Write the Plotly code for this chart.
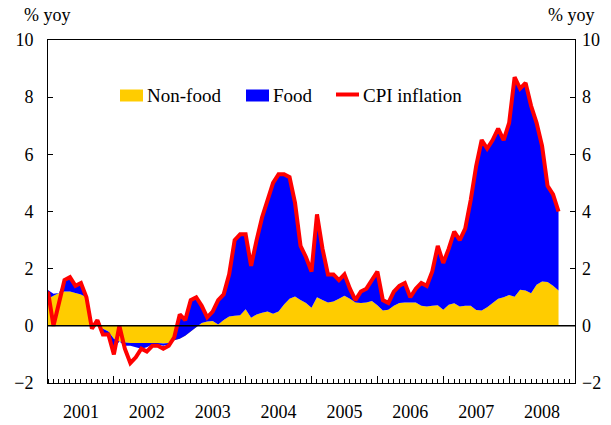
import plotly.graph_objects as go

# Monthly, Jan 2001 .. Oct 2008 (index 0 = Jan 2001)
years = ["2001", "2002", "2003", "2004", "2005", "2006", "2007", "2008"]

cpi = [
    1.2, 0.0, 0.8, 1.6, 1.7, 1.4, 1.5, 1.0, -0.1, 0.2, -0.3, -0.3,
    -1.0, 0.0, -0.8, -1.3, -1.1, -0.8, -0.9, -0.7, -0.7, -0.8, -0.7, -0.4,
    0.4, 0.2, 0.9, 1.0, 0.7, 0.3, 0.5, 0.9, 1.1, 1.8, 3.0, 3.2,
    3.2, 2.1, 3.0, 3.8, 4.4, 5.0, 5.3, 5.3, 5.2, 4.3, 2.8, 2.4,
    1.9, 3.9, 2.7, 1.8, 1.8, 1.6, 1.8, 1.3, 0.9, 1.2, 1.3, 1.6,
    1.9, 0.9, 0.8, 1.2, 1.4, 1.5, 1.0, 1.3, 1.5, 1.4, 1.9, 2.8,
    2.2, 2.7, 3.3, 3.0, 3.4, 4.4, 5.6, 6.5, 6.2, 6.5, 6.9, 6.5,
    7.1, 8.7, 8.3, 8.5, 7.7, 7.1, 6.3, 4.9, 4.6, 4.0,
]

nonfood = [
    0.95, 1.05, 1.15, 1.2, 1.2, 1.15, 1.1, 1.0, -0.05, 0.0, -0.1, -0.2,
    -0.45, -0.55, -0.58, -0.6, -0.6, -0.6, -0.6, -0.6, -0.6, -0.62, -0.6, -0.5,
    -0.45, -0.35, -0.2, -0.05, 0.1, 0.15, 0.17, 0.05, 0.2, 0.33, 0.35, 0.37,
    0.58, 0.28, 0.4, 0.46, 0.5, 0.42, 0.5, 0.75, 0.95, 1.03, 0.9, 0.8,
    0.63, 1.0, 0.9, 0.82, 0.85, 0.95, 1.05, 0.95, 0.82, 0.8, 0.82, 0.87,
    0.72, 0.54, 0.56, 0.7, 0.8, 0.82, 0.82, 0.82, 0.7, 0.68, 0.7, 0.72,
    0.56, 0.74, 0.79, 0.68, 0.7, 0.7, 0.55, 0.54, 0.65, 0.8, 0.95, 1.0,
    1.08, 1.02, 1.26, 1.24, 1.14, 1.44, 1.55, 1.53, 1.4, 1.24,
]

food = [
    0.30, 0.07, 0.0, 0.40, 0.50, 0.25, 0.40, 0.0, -0.05, 0.15, -0.20, -0.15,
    -0.35, 0.0, -0.12, -0.1, -0.15, -0.2, -0.15, -0.05, -0.05, -0.08, -0.05, 0.15,
    0.85, 0.55, 1.1, 1.05, 0.6, 0.15, 0.33, 0.85, 0.9, 1.47, 2.65, 2.83,
    2.62, 1.82, 2.6, 3.34, 3.9, 4.58, 4.8, 4.55, 4.25, 3.27, 1.9, 1.6,
    1.27, 2.9, 1.8, 0.98, 0.95, 0.65, 0.75, 0.35, 0.08, 0.4, 0.48, 0.73,
    1.18, 0.36, 0.24, 0.5, 0.6, 0.68, 0.18, 0.48, 0.8, 0.72, 1.2, 2.08,
    1.64, 1.96, 2.51, 2.32, 2.7, 3.7, 5.05, 5.96, 5.55, 5.7, 5.95, 5.5,
    6.02, 7.68, 7.04, 7.26, 6.56, 5.66, 4.75, 3.37, 3.2, 2.76,
]

series_names = ["Non-food", "Food", "CPI inflation"]
series_colors = ["#FFCC00", "#0000FF", "#FF0000"]

months = list(range(len(cpi)))
year_centers = [6 + 12 * k for k in range(len(years))]
year_bounds = [12 * k for k in range(len(years) + 1)]
yticks = [-2, 0, 2, 4, 6, 8, 10]

FONT = "Liberation Serif"
W, H = 611, 425
ML, MR, MT, MB = 48, 36, 40, 42
PW, PH = W - ML - MR, H - MT - MB


def px(x):  # pixel -> paper x
    return (x - ML) / PW


def py(y):  # pixel -> paper y
    return (H - MB - y) / PH


fig = go.Figure()
fig.add_trace(go.Scatter(
    x=months, y=nonfood, name=series_names[0], stackgroup="one", mode="none",
    fillcolor=series_colors[0], hoverinfo="skip", showlegend=False))
fig.add_trace(go.Scatter(
    x=months, y=food, name=series_names[1], stackgroup="one", mode="none",
    fillcolor=series_colors[1], hoverinfo="skip", showlegend=False))
fig.add_trace(go.Scatter(
    x=months, y=cpi, name=series_names[2], mode="lines",
    line=dict(color=series_colors[2], width=4), hoverinfo="skip", showlegend=False))
# helper trace so the secondary (right / year-tick) axes are drawn
fig.add_trace(go.Scatter(x=[None], y=[None], xaxis="x2", yaxis="y2",
                         showlegend=False, hoverinfo="skip"))

# zero reference line drawn over the areas (as in the original)
shapes = [dict(type="line", xref="paper", yref="y", x0=0, x1=1, y0=0, y1=0,
               line=dict(color="black", width=1.5), layer="above")]
annotations = []

# legend key (swatches + labels) placed like the original
legend_x = [120, 246, 336]
for i, (name, col, lx) in enumerate(zip(series_names, series_colors, legend_x)):
    if i < 2:
        shapes.append(dict(type="rect", xref="paper", yref="paper",
                           x0=px(lx), x1=px(lx + 23), y0=py(101.5), y1=py(89.5),
                           fillcolor=col, line=dict(width=0), layer="above"))
    else:
        shapes.append(dict(type="line", xref="paper", yref="paper",
                           x0=px(lx), x1=px(lx + 23), y0=py(94.5), y1=py(94.5),
                           line=dict(color=col, width=4), layer="above"))
    annotations.append(dict(text=name, xref="paper", yref="paper",
                            x=px(lx + 25), y=py(95.5), xanchor="left", yanchor="middle",
                            showarrow=False, font=dict(size=19, family=FONT)))

annotations += [
    dict(text="% yoy", xref="paper", yref="paper", x=px(47), y=1, yshift=25,
         xanchor="center", yanchor="middle", showarrow=False,
         font=dict(size=18, family=FONT)),
    dict(text="% yoy", xref="paper", yref="paper", x=px(571), y=1, yshift=25,
         xanchor="center", yanchor="middle", showarrow=False,
         font=dict(size=18, family=FONT)),
]

fig.update_layout(
    width=W, height=H,
    margin=dict(l=ML, r=MR, t=MT, b=MB, autoexpand=False),
    paper_bgcolor="white", plot_bgcolor="white",
    font=dict(family=FONT, size=18, color="black"),
    showlegend=False,
    shapes=shapes,
    annotations=annotations,
    xaxis=dict(range=[0, 96], tickmode="array", tickvals=year_centers, ticktext=years,
               ticks="", showgrid=False, zeroline=False, automargin=False,
               showline=True, linecolor="black", linewidth=1, mirror=True,
               ticklabelstandoff=12,
               minor=dict(tickmode="linear", tick0=0, dtick=1, ticks="inside",
                          ticklen=4, tickcolor="black", tickwidth=1, showgrid=False)),
    xaxis2=dict(range=[0, 96], overlaying="x", anchor="y", side="bottom",
                tickmode="array", tickvals=year_bounds, ticks="inside", ticklen=7,
                tickcolor="black", showticklabels=False, showgrid=False,
                zeroline=False, showline=False, automargin=False),
    yaxis=dict(range=[-2, 10], tickmode="array", tickvals=yticks,
               ticks="inside", ticklen=5, tickcolor="black", automargin=False,
               showgrid=False, zeroline=False,
               showline=True, linecolor="black", linewidth=1, mirror=True,
               ticklabelstandoff=10),
    yaxis2=dict(range=[-2, 10], overlaying="y", anchor="x", side="right",
                tickmode="array", tickvals=yticks, ticks="inside", ticklen=5,
                tickcolor="black", showgrid=False, zeroline=False, showline=False,
                ticklabelstandoff=6, automargin=False),
)

fig.write_html("out.html",
               config={"displayModeBar": False},
               post_script="document.body.style.margin='0';document.body.style.overflow='hidden';")
